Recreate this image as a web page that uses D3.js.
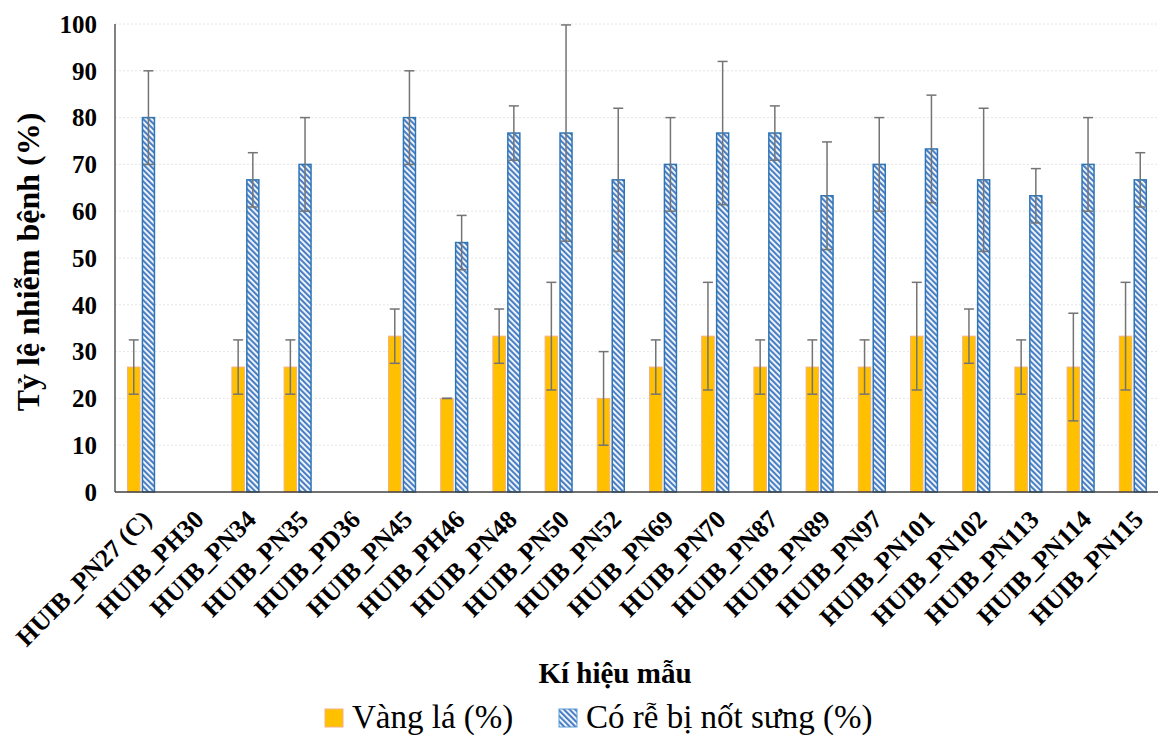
<!DOCTYPE html>
<html>
<head>
<meta charset="utf-8">
<script src="https://cdn.jsdelivr.net/npm/d3@7"></script>
<style>
  body { margin: 0; background: #fff; }
  text { font-family: "Liberation Serif", "Times New Roman", serif; }
</style>
</head>
<body>
<div id="chart"></div>
<script>
// data
const samples = ["HUIB_PN27 (C)", "HUIB_PH30", "HUIB_PN34", "HUIB_PN35", "HUIB_PD36",
  "HUIB_PN45", "HUIB_PH46", "HUIB_PN48", "HUIB_PN50", "HUIB_PN52", "HUIB_PN69",
  "HUIB_PN70", "HUIB_PN87", "HUIB_PN89", "HUIB_PN97", "HUIB_PN101", "HUIB_PN102",
  "HUIB_PN113", "HUIB_PN114", "HUIB_PN115"];
const vangLa = [26.7, 0, 26.7, 26.7, 0, 33.3, 20, 33.3, 33.3, 20, 26.7,
  33.3, 26.7, 26.7, 26.7, 33.3, 33.3, 26.7, 26.7, 33.3];
const vangLaErr = [5.8, 0, 5.8, 5.8, 0, 5.8, 0, 5.8, 11.5, 10, 5.8,
  11.5, 5.8, 5.8, 5.8, 11.5, 5.8, 5.8, 11.5, 11.5];
const notSung = [80, 0, 66.7, 70, 0, 80, 53.3, 76.7, 76.7, 66.7, 70,
  76.7, 76.7, 63.3, 70, 73.3, 66.7, 63.3, 70, 66.7];
const notSungErr = [10, 0, 5.8, 10, 0, 10, 5.8, 5.8, 23.1, 15.3, 10,
  15.3, 5.8, 11.5, 10, 11.5, 15.3, 5.8, 10, 5.8];
const yTicks = [0, 10, 20, 30, 40, 50, 60, 70, 80, 90, 100];
const seriesNames = ["Vàng lá (%)", "Có rễ bị nốt sưng (%)"];

const W = 1158, H = 736;
const margin = { left: 115, right: 1159, top: 24, bottom: 492 };

const svg = d3.select("#chart").append("svg")
  .attr("width", W).attr("height", H);

// hatch pattern for the second series
const defs = svg.append("defs");
const pat = defs.append("pattern")
  .attr("id", "hatch")
  .attr("patternUnits", "userSpaceOnUse")
  .attr("width", 4).attr("height", 4)
  .attr("patternTransform", "rotate(-45)");
pat.append("rect").attr("width", 4).attr("height", 4).attr("fill", "#fff");
pat.append("rect").attr("width", 2.2).attr("height", 4).attr("fill", "#4a7fc4");

const x = d3.scaleBand().domain(samples).range([margin.left, margin.right])
  .paddingInner(0.46).paddingOuter(0.23);
const x1 = d3.scaleBand().domain([0, 1]).range([0, x.bandwidth()]).paddingInner(0.08);
const y = d3.scaleLinear().domain([0, 100]).range([margin.bottom, margin.top]);

// grid
svg.append("g")
  .selectAll("line")
  .data(yTicks.filter(d => d > 0))
  .enter().append("line")
  .attr("x1", margin.left).attr("x2", margin.right)
  .attr("y1", d => y(d)).attr("y2", d => y(d))
  .attr("stroke", "#e6e6e6")
  .attr("stroke-width", 1)
  .attr("stroke-dasharray", "2,2");

const series = [
  { vals: vangLa, err: vangLaErr, fill: "#ffc000", stroke: "#f4b183", sw: 1 },
  { vals: notSung, err: notSungErr, fill: "url(#hatch)", stroke: "#2e75b6", sw: 1.5 }
];

series.forEach(function (s, si) {
  const rows = samples.map(function (c, i) {
    return { c: c, v: s.vals[i], e: s.err[i] };
  }).filter(d => d.v > 0);

  svg.append("g")
    .selectAll("rect")
    .data(rows)
    .enter().append("rect")
    .attr("x", d => x(d.c) + x1(si) + s.sw / 2)
    .attr("y", d => y(d.v))
    .attr("width", x1.bandwidth() - s.sw)
    .attr("height", d => y(0) - y(d.v))
    .attr("fill", s.fill)
    .attr("stroke", s.stroke)
    .attr("stroke-width", s.sw);

  // error bars
  const eg = svg.append("g").attr("stroke", "#747474").attr("stroke-width", 1.5);
  rows.forEach(function (d) {
    const cx = x(d.c) + x1(si) + x1.bandwidth() / 2;
    eg.append("line").attr("x1", cx).attr("x2", cx)
      .attr("y1", y(d.v + d.e)).attr("y2", y(d.v - d.e));
    [d.v + d.e, d.v - d.e].forEach(function (t) {
      eg.append("line").attr("x1", cx - 5).attr("x2", cx + 5)
        .attr("y1", y(t)).attr("y2", y(t));
    });
  });
});

// axes lines
svg.append("line").attr("x1", margin.left).attr("x2", margin.left)
  .attr("y1", margin.top).attr("y2", margin.bottom)
  .attr("stroke", "#595959").attr("stroke-width", 1.5);
svg.append("line").attr("x1", margin.left).attr("x2", margin.right)
  .attr("y1", margin.bottom).attr("y2", margin.bottom)
  .attr("stroke", "#404040").attr("stroke-width", 1.5);

// y tick labels
svg.append("g")
  .selectAll("text")
  .data(yTicks)
  .enter().append("text")
  .attr("x", 97)
  .attr("y", d => y(d))
  .attr("dy", "0.35em")
  .attr("text-anchor", "end")
  .attr("font-weight", "bold")
  .style("font-size", "25px")
  .text(d => d);

// x tick labels
svg.append("g")
  .selectAll("text")
  .data(samples)
  .enter().append("text")
  .attr("transform", d => "translate(" + (x(d) + x.bandwidth() / 2 + 12) + "," + 521 + ")rotate(-45)")
  .attr("text-anchor", "end")
  .attr("font-weight", "bold")
  .style("font-size", "25.5px")
  .text(d => d);

// axis titles
svg.append("text")
  .attr("transform", "translate(39," + 262 + ")rotate(-90)")
  .attr("text-anchor", "middle")
  .attr("font-weight", "bold")
  .style("font-size", "32px")
  .text("Tỷ lệ nhiễm bệnh (%)");

svg.append("text")
  .attr("x", 615).attr("y", 683)
  .attr("text-anchor", "middle")
  .attr("font-weight", "bold")
  .style("font-size", "29px")
  .text("Kí hiệu mẫu");

// legend
const legend = [
  { x: 325, fill: "#ffc000", stroke: "#f4b183" },
  { x: 559, fill: "url(#hatch)", stroke: "#5b9bd5" }
];
legend.forEach(function (l, i) {
  svg.append("rect")
    .attr("x", l.x).attr("y", 709)
    .attr("width", 18).attr("height", 18)
    .attr("fill", l.fill).attr("stroke", l.stroke).attr("stroke-width", 1);
  svg.append("text")
    .attr("x", l.x + 27).attr("y", 728)
    .style("font-size", "33px")
    .text(seriesNames[i]);
});
</script>
</body>
</html>
